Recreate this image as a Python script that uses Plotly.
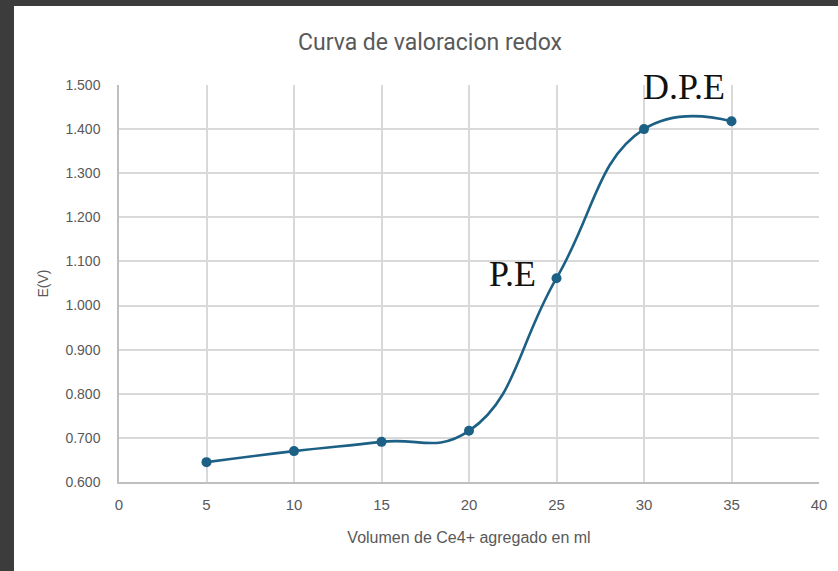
import plotly.graph_objects as go

volumen = [5, 10, 15, 20, 25, 30, 35]
potencial = [0.645, 0.670, 0.691, 0.716, 1.062, 1.400, 1.418]
x_ticks = [0, 5, 10, 15, 20, 25, 30, 35, 40]
y_ticks = [0.6, 0.7, 0.8, 0.9, 1.0, 1.1, 1.2, 1.3, 1.4, 1.5]
y_tick_labels = ["0.600", "0.700", "0.800", "0.900", "1.000", "1.100", "1.200", "1.300", "1.400", "1.500"]
labels = [("P.E", 22.5, 1.072), ("D.P.E", 32.3, 1.495)]

W, H = 838, 571
L, R, T, B = 119, 19, 85, 89
pw, ph = W - L - R, H - T - B

def px_to_paper_x(px):
    return (px - L) / pw

def px_to_paper_y(py):
    return (H - B - py) / ph

line_color = "#1d6086"
text_gray = "#595959"
grid = "#d9d9d9"
dark = "#3c3c3c"

fig = go.Figure()
fig.add_trace(go.Scatter(
    x=volumen, y=potencial, mode="lines+markers",
    line=dict(color=line_color, width=2.6, shape="spline", smoothing=1.3),
    marker=dict(color=line_color, size=10),
    showlegend=False, hoverinfo="skip"))

for txt, xv, yv in labels:
    fig.add_annotation(x=xv, y=yv, text=txt, showarrow=False,
                       font=dict(family="Liberation Serif, serif", size=36, color="#111111"))

# dark frame of the screenshot (top and left strips)
fig.add_shape(type="rect", xref="paper", yref="paper", layer="below",
              x0=px_to_paper_x(-5), x1=px_to_paper_x(W + 5),
              y0=px_to_paper_y(6), y1=px_to_paper_y(-5),
              fillcolor=dark, line=dict(width=0))
fig.add_shape(type="rect", xref="paper", yref="paper", layer="below",
              x0=px_to_paper_x(-5), x1=px_to_paper_x(14),
              y0=px_to_paper_y(H + 5), y1=px_to_paper_y(-5),
              fillcolor=dark, line=dict(width=0))

fig.update_layout(
    width=W, height=H,
    margin=dict(l=L, r=R, t=T, b=B),
    paper_bgcolor="white", plot_bgcolor="white",
    title=dict(text="Curva de valoracion redox", x=430 / W, xanchor="center",
               y=1 - 42 / H, yanchor="middle",
               font=dict(family="Liberation Sans Narrow, Roboto, sans-serif", size=23, color=text_gray)),
    xaxis=dict(range=[0, 40], tickvals=x_ticks, ticktext=[str(v) for v in x_ticks],
               showgrid=True, gridcolor=grid, gridwidth=1.5, zeroline=False,
               showline=True, linecolor="#bfbfbf", linewidth=1.5, mirror=False,
               ticks="", ticklen=0, ticklabelstandoff=8,
               tickfont=dict(family="Liberation Sans Narrow, sans-serif", size=15, color=text_gray),
               title=dict(text="Volumen de Ce4+ agregado en ml", standoff=20,
                          font=dict(family="Liberation Sans Narrow, sans-serif", size=16, color=text_gray))),
    yaxis=dict(range=[0.6, 1.5], tickvals=y_ticks, ticktext=y_tick_labels,
               showgrid=True, gridcolor=grid, gridwidth=1.5, zeroline=False,
               showline=True, linecolor="#bfbfbf", linewidth=1.5,
               ticks="", ticklen=0, ticklabelstandoff=14,
               tickfont=dict(family="Liberation Sans, Arial, sans-serif", size=14, color=text_gray),
               title=dict(text="E(V)", standoff=14,
                          font=dict(family="Liberation Sans, Arial, sans-serif", size=14, color=text_gray))),
)

fig.write_html("out.html", config={"displayModeBar": False},
               post_script="document.body.style.margin='0';document.body.style.padding='0';")
